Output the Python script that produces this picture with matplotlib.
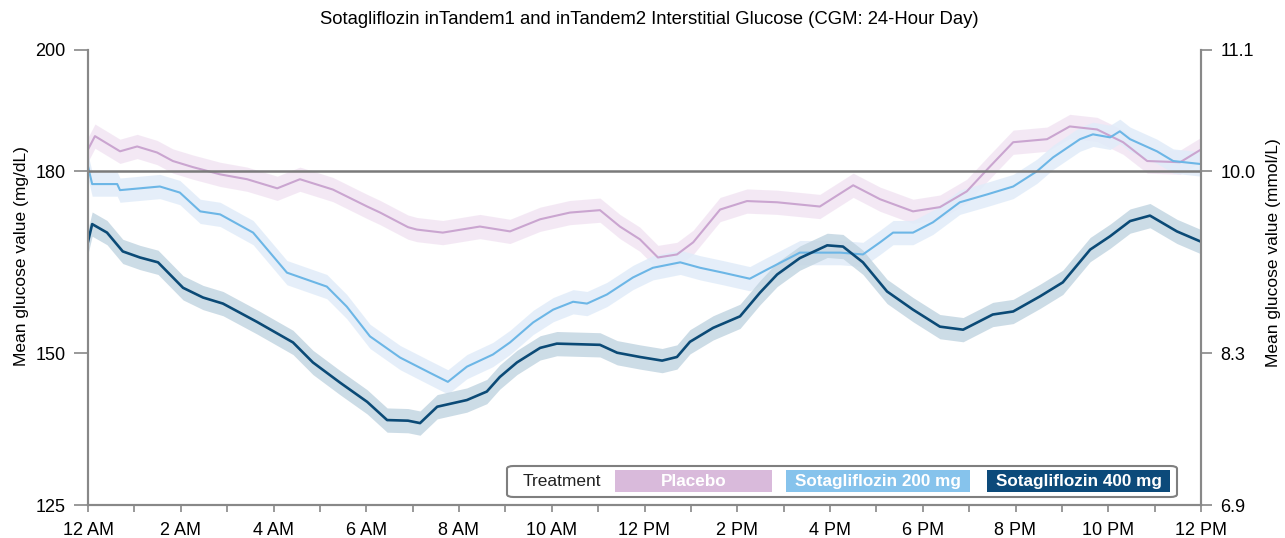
import matplotlib
matplotlib.use("Agg")
import matplotlib.pyplot as plt
from matplotlib.patches import Rectangle, FancyBboxPatch
import numpy as np

plt.rcParams['font.family'] = ['Liberation Sans', 'DejaVu Sans']

# ---- data (hours since midnight, mg/dL) ----
placebo_h = [0, 0.15, 0.69, 1.06, 1.49, 1.83, 2.26, 2.85, 3.43, 4.08, 4.57, 5.28, 6.02, 6.30, 6.90,
             7.09, 7.65, 8.45, 9.10, 9.75, 10.39, 11.04, 11.47, 11.90, 12.29, 12.70, 13.05, 13.63,
             14.21, 14.86, 15.78, 16.50, 17.08, 17.79, 18.37, 18.95, 19.45, 19.95, 20.68, 21.17,
             21.76, 22.32, 22.84, 23.55, 24.0]
placebo_v = [183.6, 185.8, 183.3, 184.1, 183.1, 181.7, 180.7, 179.5, 178.7, 177.2, 178.7, 177.0, 174.2,
             173.2, 170.8, 170.4, 169.9, 170.9, 170.1, 172.1, 173.2, 173.6, 170.9, 168.8, 165.8, 166.3,
             168.3, 173.7, 175.1, 174.9, 174.2, 177.7, 175.4, 173.4, 174.1, 176.7, 180.8, 184.8, 185.3,
             187.4, 186.9, 184.8, 181.7, 181.5, 183.6]

s200_h = [0, 0.09, 0.63, 0.69, 1.55, 1.98, 2.42, 2.85, 3.56, 4.29, 5.15, 5.58, 6.08, 6.73, 7.37, 7.76,
          8.17, 8.73, 9.10, 9.60, 10.03, 10.46, 10.76, 11.19, 11.75, 12.18, 12.77, 13.20, 13.69, 14.27,
          14.64, 15.35, 16.22, 16.71, 17.08, 17.36, 17.79, 18.22, 18.80, 19.39, 19.95, 20.46, 20.81,
          21.39, 21.67, 22.04, 22.25, 22.47, 23.05, 23.40, 24.0]
s200_v = [180.8, 177.9, 177.9, 176.9, 177.5, 176.5, 173.4, 172.9, 169.9, 163.3, 161.0, 157.7, 152.8,
          149.3, 146.8, 145.3, 147.8, 149.8, 151.8, 155.1, 157.2, 158.5, 158.2, 159.7, 162.5, 164.1,
          165.0, 164.1, 163.3, 162.3, 163.8, 166.6, 166.6, 166.3, 168.3, 169.9, 169.9, 171.6, 174.9,
          176.2, 177.5, 180.0, 182.3, 185.3, 186.1, 185.6, 186.6, 185.3, 183.3, 181.7, 181.2]

s400_h = [0, 0.09, 0.41, 0.75, 1.12, 1.51, 2.05, 2.48, 2.91, 3.64, 4.42, 4.85, 5.43, 6.02, 6.45, 6.90,
          7.16, 7.53, 8.17, 8.60, 8.88, 9.25, 9.75, 10.11, 11.04, 11.41, 11.90, 12.38, 12.70, 12.98,
          13.48, 14.06, 14.49, 14.86, 15.35, 15.94, 16.28, 16.71, 17.23, 17.79, 18.37, 18.87, 19.51,
          19.95, 20.53, 21.02, 21.61, 22.04, 22.47, 22.90, 23.48, 24.0]
s400_v = [168.4, 171.3, 169.9, 166.8, 165.8, 165.0, 160.8, 159.2, 158.2, 155.2, 151.8, 148.5, 145.2,
          142.0, 139.0, 138.9, 138.5, 141.2, 142.3, 143.7, 146.1, 148.5, 150.9, 151.6, 151.4, 150.1,
          149.4, 148.8, 149.4, 151.9, 154.2, 156.1, 160.0, 163.0, 165.7, 167.8, 167.6, 165.0, 160.2,
          157.2, 154.4, 153.9, 156.4, 156.9, 159.4, 161.7, 167.1, 169.3, 171.8, 172.7, 170.1, 168.4]

band_halfwidth = 2.0

x_ticks = list(range(0, 25))
x_labels = ['12 AM', '2 AM', '4 AM', '6 AM', '8 AM', '10 AM', '12 PM', '2 PM', '4 PM', '6 PM',
            '8 PM', '10 PM', '12 PM']
y_ticks = [125, 150, 180, 200]
y_right_labels = ['6.9', '8.3', '10.0', '11.1']
reference_line = 180

series_names = ['Placebo', 'Sotagliflozin 200 mg', 'Sotagliflozin 400 mg']
line_colors = ['#caa5d0', '#6cb6e6', '#0b4a76']
band_colors = ['#f2e5f3', '#e1ecf9', '#c4d6e2']
legend_colors = ['#d9badb', '#86c3ec', '#0c4a7a']

TOP, BOT, LEFT, RIGHT = 50, 505, 88, 1201
fig = plt.figure(figsize=(12.85, 5.38), dpi=100)
ax = fig.add_axes([LEFT/1285, 1 - BOT/538, (RIGHT-LEFT)/1285, (BOT-TOP)/538])

data = [(placebo_h, placebo_v), (s200_h, s200_v), (s400_h, s400_v)]
for i, (h, v) in enumerate(data):
    h = np.array(h); v = np.array(v)
    ax.fill_between(h, v - band_halfwidth, v + band_halfwidth, color=band_colors[i],
                    alpha=0.85, lw=0, zorder=1 + i)
for i, (h, v) in enumerate(data):
    ax.plot(h, v, color=line_colors[i], lw=1.9 if i == 2 else 1.5, zorder=5 + i)

ax.axhline(reference_line, color='#7a7a7a', lw=1.8, zorder=10)

ax.set_xlim(0, 24)
ax.set_ylim(125, 200)
ax.set_xticks(x_ticks)
ax.set_xticklabels([x_labels[k // 2] if k % 2 == 0 else '' for k in x_ticks], fontsize=13)
ax.set_yticks(y_ticks)
ax.set_yticklabels([str(t) for t in y_ticks], fontsize=13)
ax.tick_params(axis='x', length=5, width=1.2, color='#888888', pad=7)
ax.tick_params(axis='y', length=10, width=1.2, color='#888888', pad=6)
ax.spines['top'].set_visible(False)
for s in ['left', 'right', 'bottom']:
    ax.spines[s].set_color('#888888')
    ax.spines[s].set_linewidth(1.5)
ax.set_ylabel('Mean glucose value (mg/dL)', fontsize=12.5)
ax.yaxis.set_label_coords((29 - LEFT) / (RIGHT - LEFT), (BOT - 256) / (BOT - TOP))

ax2 = ax.twinx()
ax2.set_ylim(125, 200)
ax2.set_yticks(y_ticks)
ax2.set_yticklabels(y_right_labels, fontsize=13)
ax2.tick_params(axis='y', length=8, width=1.2, color='#888888', pad=6)
ax2.spines['top'].set_visible(False)
for s in ['left', 'right', 'bottom']:
    ax2.spines[s].set_color('#888888')
    ax2.spines[s].set_linewidth(1.5)
ax2.set_ylabel('Mean glucose value (mmol/L)', fontsize=12.5)
ax2.yaxis.set_label_coords((1266 - LEFT) / (RIGHT - LEFT), (BOT - 253) / (BOT - TOP))

fig.text(649/1285, 1 - 20/538, 'Sotagliflozin inTandem1 and inTandem2 Interstitial Glucose (CGM: 24-Hour Day)',
         ha='center', va='center', fontsize=13.3)

# ---- legend ----
def axfx(px):
    return (px - LEFT) / (RIGHT - LEFT)
def axfy(py):
    return (BOT - py) / (BOT - TOP)

outer = FancyBboxPatch((axfx(507), axfy(497)), axfx(1177) - axfx(507), axfy(466) - axfy(497),
                       boxstyle='round,pad=0,rounding_size=0.006', transform=ax.transAxes,
                       facecolor='white', edgecolor='#7f7f7f', lw=1.5, zorder=20)
ax.add_patch(outer)
ax.text(axfx(562), axfy(481.5), 'Treatment', transform=ax.transAxes, ha='center', va='center',
        fontsize=12.5, color='#222222', zorder=21)
boxes = [(615, 772), (786, 970), (987, 1170)]
for (x0, x1), name, col in zip(boxes, series_names, legend_colors):
    ax.add_patch(Rectangle((axfx(x0), axfy(492)), axfx(x1) - axfx(x0), axfy(470) - axfy(492),
                           transform=ax.transAxes, facecolor=col, edgecolor='none', zorder=21))
    ax.text((axfx(x0) + axfx(x1)) / 2, axfy(481.5), name, transform=ax.transAxes, ha='center',
            va='center', fontsize=12.3, fontweight='bold', color='white', zorder=22)

fig.savefig('out.png', dpi=100)
